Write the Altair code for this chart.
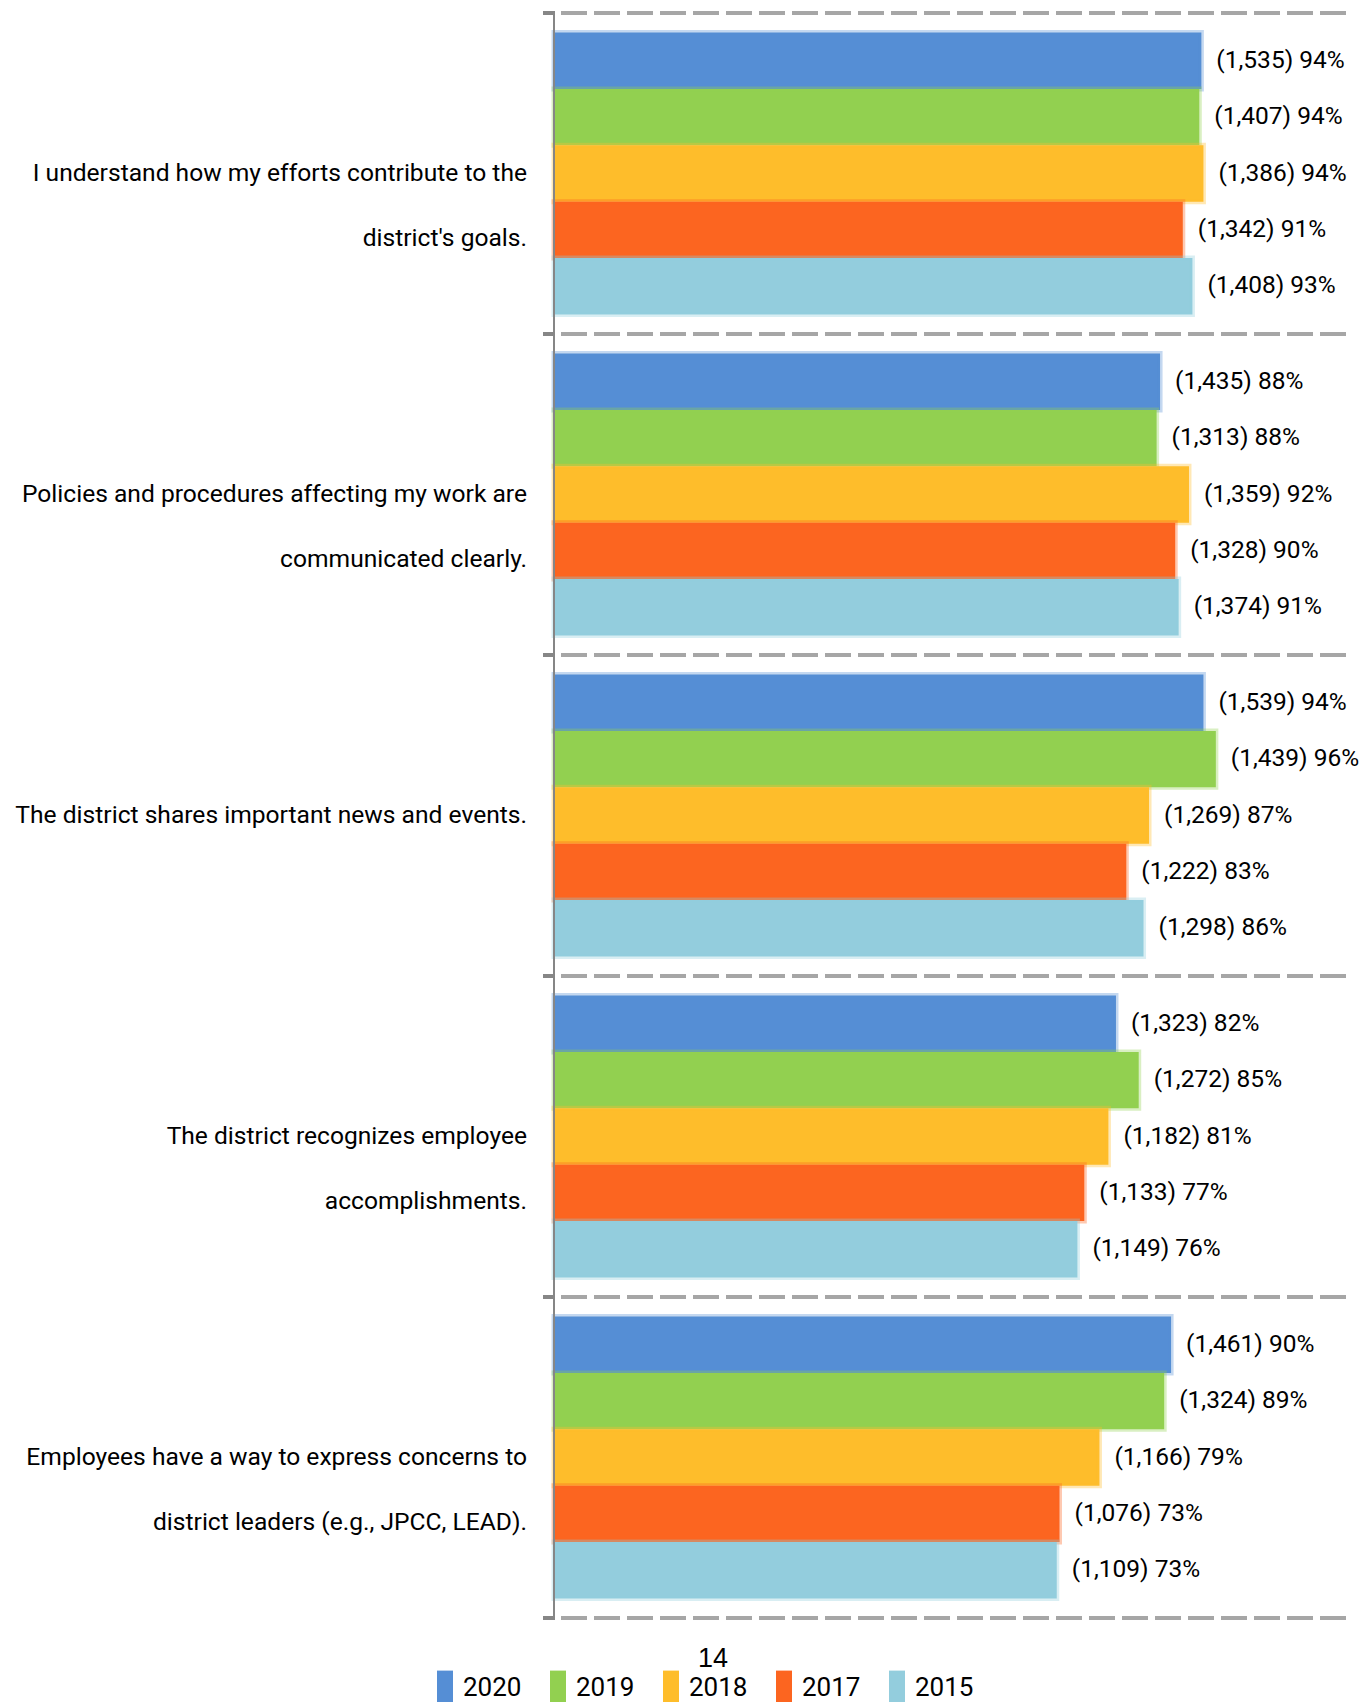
import altair as alt
import pandas as pd

categories = [
    "I understand how my efforts contribute to the|district's goals.",
    "Policies and procedures affecting my work are|communicated clearly.",
    "The district shares important news and events.",
    "The district recognizes employee|accomplishments.",
    "Employees have a way to express concerns to|district leaders (e.g., JPCC, LEAD).",
]
years = ["2020", "2019", "2018", "2017", "2015"]
colors = ["#558ED5", "#92D050", "#FEBD2B", "#FC6520", "#93CDDD"]

bar_2020 = [94.0, 88.0, 94.3, 81.6, 89.6]
bar_2019 = [93.7, 87.5, 96.1, 84.9, 88.6]
bar_2018 = [94.3, 92.2, 86.4, 80.5, 79.2]
bar_2017 = [91.3, 90.2, 83.1, 77.0, 73.4]
bar_2015 = [92.7, 90.7, 85.6, 76.0, 73.0]

n_2020 = [1535, 1435, 1539, 1323, 1461]
n_2019 = [1407, 1313, 1439, 1272, 1324]
n_2018 = [1386, 1359, 1269, 1182, 1166]
n_2017 = [1342, 1328, 1222, 1133, 1076]
n_2015 = [1408, 1374, 1298, 1149, 1109]

pct_2020 = [94, 88, 94, 82, 90]
pct_2019 = [94, 88, 96, 85, 89]
pct_2018 = [94, 92, 87, 81, 79]
pct_2017 = [91, 90, 83, 77, 73]
pct_2015 = [93, 91, 86, 76, 73]

page_number = ["14"]

bars_by_year = dict(zip(years, [bar_2020, bar_2019, bar_2018, bar_2017, bar_2015]))
n_by_year = dict(zip(years, [n_2020, n_2019, n_2018, n_2017, n_2015]))
pct_by_year = dict(zip(years, [pct_2020, pct_2019, pct_2018, pct_2017, pct_2015]))

rows = []
for y in years:
    for i, c in enumerate(categories):
        rows.append({
            "category": c,
            "year": y,
            "value": bars_by_year[y][i],
            "label": f"({n_by_year[y][i]:,}) {pct_by_year[y][i]}%",
        })
df = pd.DataFrame(rows)
cat_df = pd.DataFrame({"category": categories})
page_df = pd.DataFrame({"page": page_number})

FONT = "Roboto"
W, H = 792, 1605

y_scale = alt.Scale(domain=categories, paddingInner=0, paddingOuter=0)
x_scale = alt.Scale(domain=[0, 115], nice=False, zero=True)
color_scale = alt.Scale(domain=years, range=colors)

y_plain = alt.Y("category:N", sort=categories, scale=y_scale, axis=None)
yoff = alt.YOffset("year:N", sort=years,
                   scale=alt.Scale(domain=years, paddingInner=0, paddingOuter=0.346))
x_enc = alt.X("value:Q", scale=x_scale, axis=None)

bars = alt.Chart(df).mark_bar(strokeWidth=5, strokeOpacity=0.35).encode(
    x=x_enc,
    y=y_plain,
    yOffset=yoff,
    color=alt.Color("year:N", sort=years, scale=color_scale,
                    legend=alt.Legend(
                        orient="none", legendX=-122, legendY=1662,
                        direction="horizontal", title=None, padding=0,
                        symbolType="M-1,-2.2H1V2.2H-1Z", symbolSize=256,
                        symbolStrokeWidth=0, symbolOpacity=1,
                        labelFont=FONT, labelFontSize=26, labelColor="#000000",
                        labelOffset=5, columnPadding=23)),
    stroke=alt.Stroke("year:N", sort=years, scale=color_scale, legend=None),
)

labels = alt.Chart(df).mark_text(
    align="left", baseline="middle", dx=15, font=FONT, fontSize=24.5, color="#000000"
).encode(
    x=x_enc, y=y_plain, yOffset=yoff, text="label:N"
)

grid_top = alt.Chart(cat_df).mark_rule(
    color="#A6A6A6", strokeWidth=4, strokeDash=[26, 7]
).encode(y=alt.Y("category:N", sort=categories, scale=y_scale, axis=None, bandPosition=0))
grid_bottom = alt.Chart(cat_df).mark_rule(
    color="#A6A6A6", strokeWidth=4, strokeDash=[26, 7]
).encode(y=alt.Y("category:N", sort=categories, scale=y_scale, axis=None, bandPosition=1))

tick_top = alt.Chart(cat_df).mark_rule(color="#868686", strokeWidth=4).encode(
    y=alt.Y("category:N", sort=categories, scale=y_scale, axis=None, bandPosition=0),
    x=alt.value(-11), x2=alt.value(0))
tick_bottom = alt.Chart(cat_df).mark_rule(color="#868686", strokeWidth=4).encode(
    y=alt.Y("category:N", sort=categories, scale=y_scale, axis=None, bandPosition=1),
    x=alt.value(-11), x2=alt.value(0))

axis_line = alt.Chart(page_df).mark_rule(color="#868686", strokeWidth=2).encode(
    x=alt.value(0), y=alt.value(-2), y2=alt.value(H + 2))

cat_labels = alt.Chart(cat_df).mark_text(
    align="right", baseline="middle", lineBreak="|", lineHeight=65,
    font=FONT, fontSize=24.6, color="#000000"
).encode(y=y_plain, x=alt.value(-27), text="category:N")

page = alt.Chart(page_df).mark_text(
    align="center", baseline="middle", font="Liberation Sans", fontSize=27, color="#000000"
).encode(x=alt.value(159), y=alt.value(1646), text="page:N")

chart = alt.layer(
    grid_top, grid_bottom, bars, tick_top, tick_bottom, axis_line, labels, cat_labels, page
).properties(
    width=W, height=H,
    padding={"left": 546, "top": 5, "right": 14, "bottom": 100},
    autosize=alt.AutoSizeParams(type="none"),
).configure_view(strokeWidth=0)

chart.save("out.html", embed_options={"renderer": "svg", "actions": False})
